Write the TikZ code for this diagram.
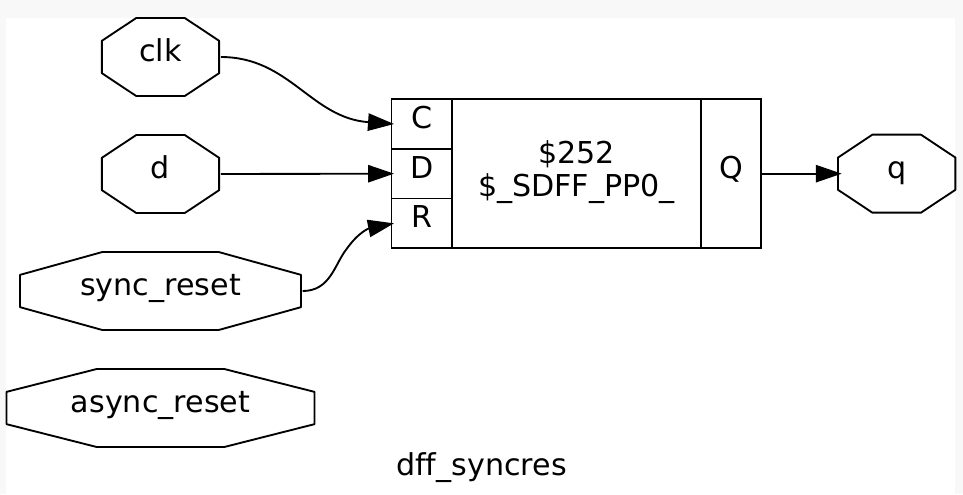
\documentclass[tikz,border=0pt]{standalone}
\usepackage{fontspec}
\setmainfont[Ligatures=NoCommon]{DejaVu Sans}
\usetikzlibrary{arrows.meta, positioning, calc}
\definecolor{pagegray}{HTML}{F8F8F8}
\tikzset{
x=0.75pt,
y=-0.75pt,
node distance=29.25pt,
>={Triangle[length=19.5pt,width=13pt]},
every node/.style={font=\fontsize{22.6}{25}\selectfont,inner sep=0pt,outer sep=0pt},
wire/.style={line width=1.4pt},
label/.style={text height=11pt,text depth=4.2pt},
octagon/.style={%
    label,
    minimum height=58.5pt,
},
pin/.style={%
    label,
    rectangle,
    draw,
    line width=1.4pt,
    minimum width=45.4pt,
    minimum height=37.25pt,
},
}

\begin{document}
\begin{tikzpicture}

\useasboundingbox (0,0) rectangle (963,494);
\fill[pagegray] (0,0) rectangle (963,494);
\fill[white] (6,18) rectangle (955,494);

% ports on the left
\node[octagon,minimum width=88pt] (clk) at (160.5,57) {clk};
\node[octagon,minimum width=88pt,below=of clk] (d) {d};
\node[octagon,minimum width=210.75pt,below=of d] (sync_reset) {sync\_reset};
\node[octagon,minimum width=231pt,below=of sync_reset] (async_reset) {async\_reset};

% the flip-flop
\node[pin] (C) at (421.75,124) {C};
\node[pin,below=0pt of C] (D) {D};
\node[pin,below=0pt of D] (R) {R};
\node[pin,text height=,text depth=7.5pt,minimum width=186.75pt,minimum height=111.75pt,align=center,right=0pt of D] (dff) {\$252\\\$\_SDFF\_PP0\_};
\node[pin,minimum width=45pt,minimum height=111.75pt,right=0pt of dff] (Q) {Q};

\node[octagon,minimum width=88pt,right=57.75pt of Q] (q) {q};
\node[label] (title) at (481.5,470.5) {dff\_syncres};

% outlines of the ports
\foreach \port in {clk,d,sync_reset,async_reset,q} {
    \draw[wire,line join=round]
        ($(\port.north west)!0.293!(\port.north east)$)
        -- ($(\port.north west)!0.707!(\port.north east)$)
        -- ($(\port.north east)!0.293!(\port.south east)$)
        -- ($(\port.north east)!0.707!(\port.south east)$)
        -- ($(\port.south west)!0.707!(\port.south east)$)
        -- ($(\port.south west)!0.293!(\port.south east)$)
        -- ($(\port.north west)!0.707!(\port.south west)$)
        -- ($(\port.north west)!0.293!(\port.south west)$)
        -- cycle;
}

\draw[wire,->] ([xshift=1.2pt]clk.east) .. controls +(69,0) and +(-83,-6) .. ([xshift=1.9pt]C.west);
\draw[wire,->] ([xshift=1.2pt]d.east) -- ([xshift=1.9pt]D.west);
\draw[wire,->] ([xshift=1.2pt]sync_reset.east) .. controls +(28,0) and +(-12,15) .. ++(44,-42) .. controls +(12,-17) and +(-25,5) .. ([xshift=1.9pt]R.west);
\draw[wire,->] (Q.east) -- ([xshift=2.8pt]q.west);

\end{tikzpicture}
\end{document}
